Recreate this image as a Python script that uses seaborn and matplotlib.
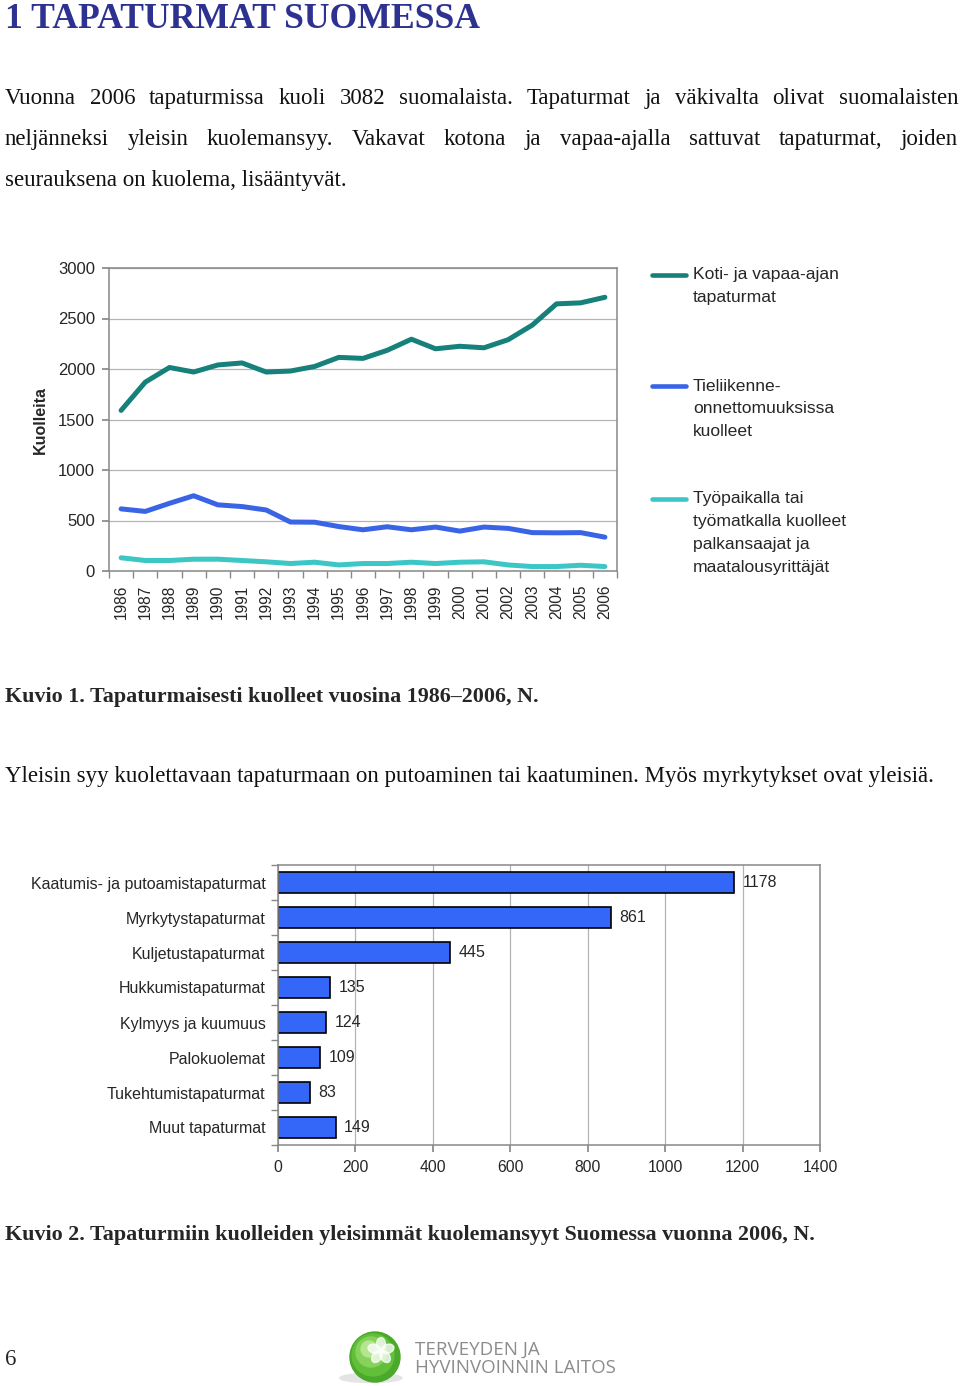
import numpy as np
import pandas as pd
import matplotlib.pyplot as plt
import matplotlib.patches as mpatches
from matplotlib.lines import Line2D
from matplotlib.transforms import IdentityTransform
import seaborn as sns

# ----------------------------
# Data
# ----------------------------
years = list(range(1986, 2007))
koti = [1590, 1870, 2015, 1970, 2040, 2060, 1970, 1980, 2025, 2115, 2105,
        2185, 2295, 2200, 2225, 2210, 2290, 2435, 2645, 2655, 2710]
tieliikenne = [615, 590, 670, 745, 655, 638, 604, 485, 483, 440, 408,
               438, 408, 435, 395, 435, 422, 380, 378, 380, 335]
tyopaikka = [131, 104, 104, 117, 117, 104, 91, 74, 87, 60, 74,
             74, 87, 74, 87, 91, 60, 44, 44, 57, 44]

series_names = ["Koti- ja vapaa-ajan\ntapaturmat",
                "Tieliikenne-\nonnettomuuksissa\nkuolleet",
                "Työpaikalla tai\ntyömatkalla kuolleet\npalkansaajat ja\nmaatalousyrittäjät"]
series_colors = ["#16807a", "#3a64e6", "#3cc6c6"]

causes = ["Kaatumis- ja putoamistapaturmat", "Myrkytystapaturmat",
          "Kuljetustapaturmat", "Hukkumistapaturmat", "Kylmyys ja kuumuus",
          "Palokuolemat", "Tukehtumistapaturmat", "Muut tapaturmat"]
cause_counts = [1178, 861, 445, 135, 124, 109, 83, 149]

# ----------------------------
# Figure setup
# ----------------------------
W, H = 960, 1386
sns.set_theme(style="white")
plt.rcParams["font.family"] = ["Liberation Sans", "DejaVu Sans"]

fig = plt.figure(figsize=(W / 100, H / 100), dpi=100)


def fx(x):
    return x / W


def fy(y):
    return 1 - y / H


SERIF = ["Liberation Serif", "DejaVu Serif"]
BODY = 16.5
CAPTION = 15.8

# title and paragraph
fig.text(fx(5), fy(28), "1 TAPATURMAT SUOMESSA", family=SERIF, weight="bold",
         fontsize=25.7, color="#2d3190", va="baseline")


def justify(words, y, x0, x1, **kw):
    texts = [fig.text(0, fy(y), w, va="baseline", **kw) for w in words]
    r = fig.canvas.get_renderer()
    widths = [t.get_window_extent(r).width for t in texts]
    gap = (x1 - x0 - sum(widths)) / (len(words) - 1)
    x = x0
    for t, w in zip(texts, widths):
        t.set_x(fx(x))
        x += w + gap


justify("Vuonna 2006 tapaturmissa kuoli 3082 suomalaista. Tapaturmat ja väkivalta olivat suomalaisten".split(),
        104, 5, 958, family=SERIF, fontsize=BODY, color="#111111")
justify("neljänneksi yleisin kuolemansyy. Vakavat kotona ja vapaa-ajalla sattuvat tapaturmat, joiden".split(),
        145, 5, 958, family=SERIF, fontsize=BODY, color="#111111")
fig.text(fx(5), fy(186), "seurauksena on kuolema, lisääntyvät.", family=SERIF,
         fontsize=BODY, color="#111111", va="baseline")

# ----------------------------
# Chart 1: lines
# ----------------------------
ax1 = fig.add_axes([fx(109), fy(571), fx(617) - fx(109), fy(268) - fy(571)])
df_lines = pd.DataFrame({
    "Vuosi": years * 3,
    "Kuolleita": koti + tieliikenne + tyopaikka,
    "Sarja": sum([[n] * len(years) for n in series_names], []),
})
sns.lineplot(data=df_lines, x="Vuosi", y="Kuolleita", hue="Sarja",
             palette=dict(zip(series_names, series_colors)), linewidth=3.6,
             legend=False, ax=ax1)
ax1.set_xlim(1985.5, 2006.5)
ax1.set_ylim(0, 3000)
ax1.set_yticks(range(0, 3001, 500))
ax1.set_xticks(years)
ax1.set_xticklabels([str(y) for y in years], rotation=90, fontsize=11.2)
ax1.set_xticks(np.arange(1985.5, 2007, 1), minor=True)
ax1.tick_params(axis="x", which="major", length=0, pad=10)
ax1.tick_params(axis="x", which="minor", length=5, color="#888888", direction="out", bottom=True)
ax1.tick_params(axis="y", length=5, color="#888888", direction="out", left=True, labelsize=12, pad=5)
ax1.yaxis.grid(True, color="#b4b4b4", linewidth=0.9)
ax1.xaxis.grid(False)
for s in ax1.spines.values():
    s.set_color("#888888")
    s.set_linewidth(1.1)
ax1.set_xlabel("")
ax1.set_ylabel("")
fig.text(fx(40), fy(420), "Kuolleita", rotation=90, weight="bold", fontsize=11.5,
         ha="center", va="center")

# legend, drawn beside the plot
legend_rows = [275, 386, 499]
for name, color, y0 in zip(series_names, series_colors, legend_rows):
    fig.add_artist(Line2D([fx(652), fx(686)], [fy(y0), fy(y0)], color=color,
                          linewidth=3.3, transform=fig.transFigure))
    for i, line in enumerate(name.split("\n")):
        fig.text(fx(693), fy(y0 + i * 22.8), line, fontsize=12.6, va="center")

fig.text(fx(5), fy(702), "Kuvio 1. Tapaturmaisesti kuolleet vuosina 1986–2006, N.",
         family=SERIF, weight="bold", fontsize=CAPTION, va="baseline")
fig.text(fx(5), fy(782), "Yleisin syy kuolettavaan tapaturmaan on putoaminen tai kaatuminen. Myös myrkytykset ovat yleisiä.",
         family=SERIF, fontsize=BODY, color="#111111", va="baseline")

# ----------------------------
# Chart 2: bars
# ----------------------------
ax2 = fig.add_axes([fx(278), fy(1145), fx(820) - fx(278), fy(865) - fy(1145)])
df_bars = pd.DataFrame({"Syy": causes, "N": cause_counts})
sns.barplot(data=df_bars, x="N", y="Syy", orient="h", color="#3466f8",
            saturation=1, edgecolor="black", linewidth=1.2, width=0.6, ax=ax2)
ax2.bar_label(ax2.containers[0], padding=6, fontsize=11.5)
ax2.set_xlim(0, 1400)
ax2.set_xticks(range(0, 1401, 200))
ax2.set_ylim(len(causes) - 0.5, -0.5)
ax2.set_yticks(np.arange(-0.5, len(causes)), minor=True)
ax2.tick_params(axis="y", which="major", length=0, labelsize=11.5, pad=9)
ax2.tick_params(axis="y", which="minor", length=5, color="#888888", direction="out", left=True)
ax2.tick_params(axis="x", length=5, color="#888888", direction="out", bottom=True, labelsize=11.3, pad=6)
ax2.xaxis.grid(True, color="#b4b4b4", linewidth=0.9)
ax2.set_axisbelow(True)
for s in ax2.spines.values():
    s.set_color("#888888")
    s.set_linewidth(1.1)
ax2.set_xlabel("")
ax2.set_ylabel("")

fig.text(fx(5), fy(1240), "Kuvio 2. Tapaturmiin kuolleiden yleisimmät kuolemansyyt Suomessa vuonna 2006, N.",
         family=SERIF, weight="bold", fontsize=CAPTION, va="baseline")

# ----------------------------
# Footer: page number and logo
# ----------------------------
fig.text(fx(5), fy(1365), "6", family=SERIF, fontsize=BODY, va="baseline")

px = IdentityTransform()
cx, cy = 375, H - 1357
fig.add_artist(mpatches.Ellipse((cx - 4, H - 1378), 62, 9, color="#e4e4e4", transform=px))
for r, col, dx, dy in [(25, "#4aa82a", 0, 0), (21, "#62bf3a", -2, 2),
                       (15, "#86d25a", -4, 5), (8, "#b4e690", -6, 8)]:
    fig.add_artist(mpatches.Circle((cx + dx, cy + dy), r, color=col, transform=px))
for ang in range(0, 360, 72):
    a = np.deg2rad(ang + 90)
    fig.add_artist(mpatches.Ellipse((cx + 6 + 7 * np.cos(a), cy + 6 + 7 * np.sin(a)), 9, 13,
                                    angle=ang, color="white", alpha=0.75, transform=px))
fig.text(fx(415), fy(1350), "TERVEYDEN JA", family=["Open Sans", "DejaVu Sans"],
         fontsize=13.5, color="#8c8c8c", va="center")
fig.text(fx(415), fy(1368), "HYVINVOINNIN LAITOS", family=["Open Sans", "DejaVu Sans"],
         fontsize=13.5, color="#8c8c8c", va="center")

fig.savefig("out.png", dpi=100)
plt.close(fig)
